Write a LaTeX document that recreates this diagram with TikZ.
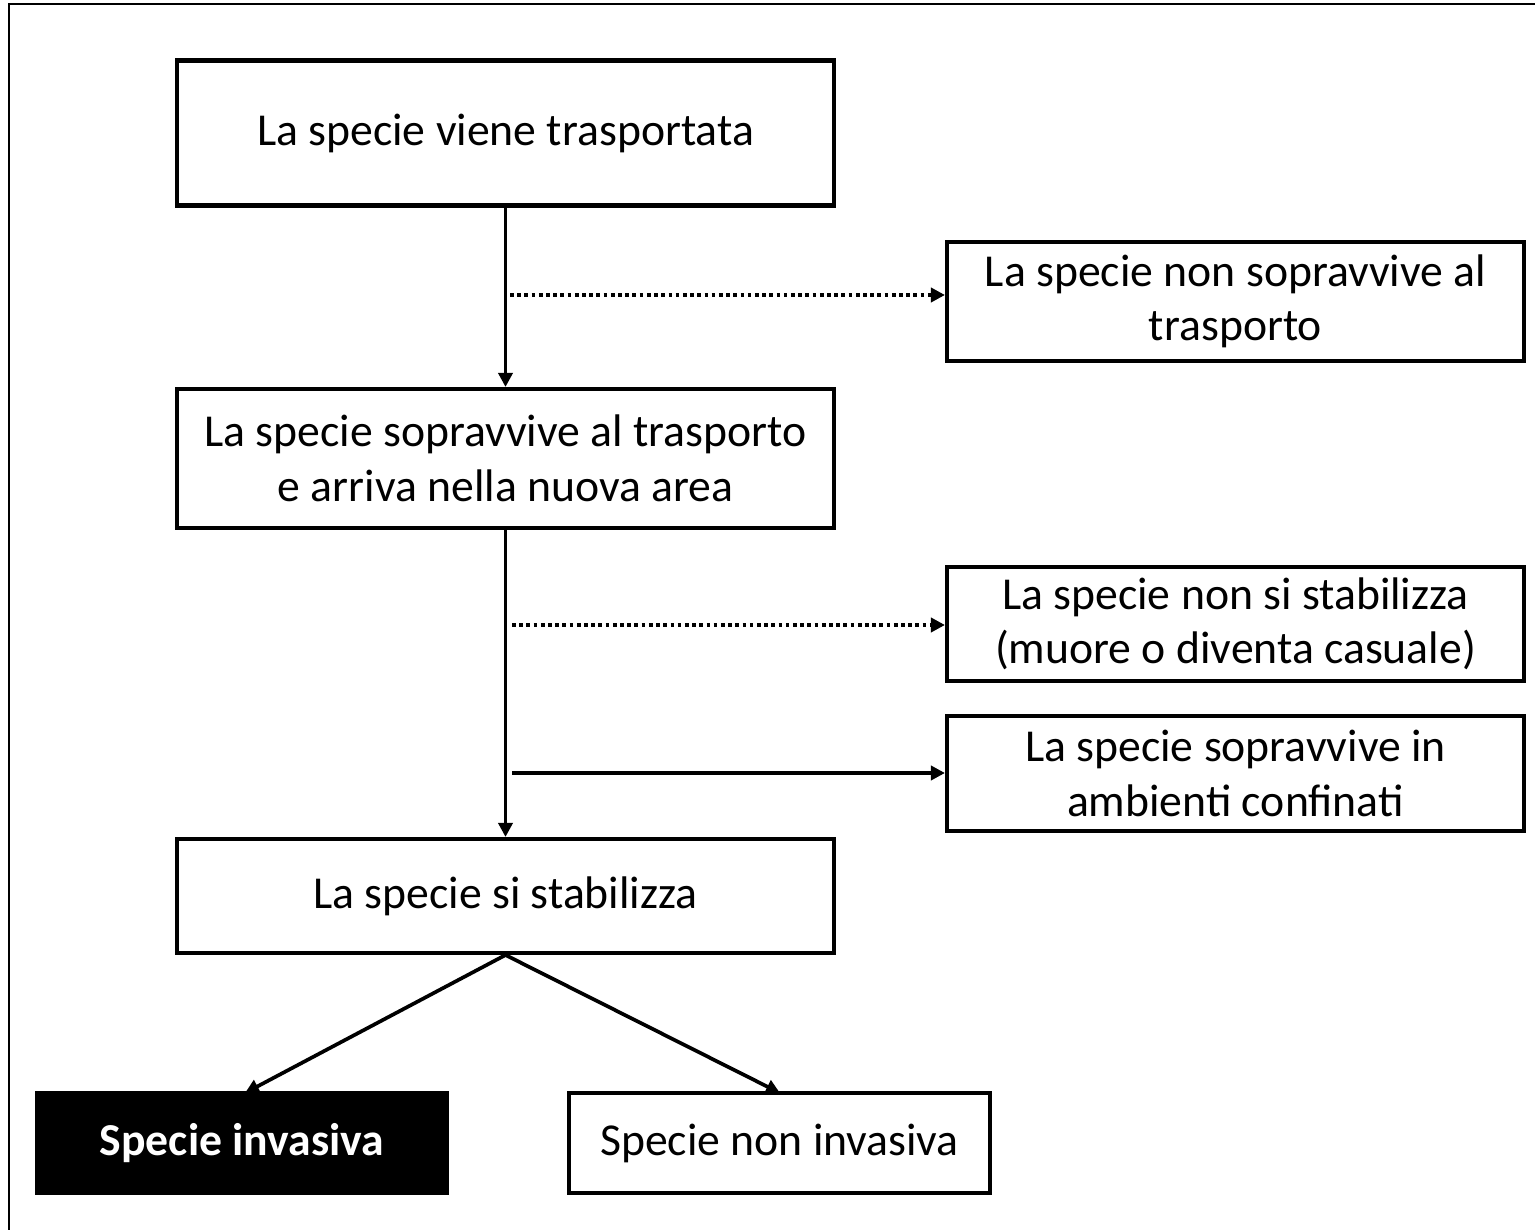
\documentclass[tikz,border=0pt]{standalone}
\usepackage{fontspec}
\setmainfont{Carlito}
\usepackage{tikz}
\usetikzlibrary{arrows.meta}

\tikzset{
	stagebox/.style={shape=rectangle,draw=black,line width=2.3pt,align=center,inner sep=0pt},
	flow/.style={line width=2.1pt,-{Triangle[length=8pt,width=8pt]}}
}

\begin{document}
\begin{tikzpicture}[font=\fontsize{26}{31}\selectfont]
	\useasboundingbox (0,0) rectangle (30.7,-24.6);
	% frame
	\draw[line width=1.4pt] (0.18,-25) -- (0.18,-0.08) -- (31,-0.08);

	\node[stagebox,minimum width=13.14cm,minimum height=2.9cm] (a) at (10.11,-2.66) {La specie viene trasportata};
	\node[stagebox,minimum width=11.54cm,minimum height=2.38cm] (b) at (24.71,-6.03) {La specie non sopravvive al\\trasporto};
	\node[stagebox,minimum width=13.14cm,minimum height=2.78cm] (c) at (10.11,-9.17) {La specie sopravvive al trasporto\\e arriva nella nuova area};
	\node[stagebox,minimum width=11.54cm,minimum height=2.28cm] (d) at (24.71,-12.48) {La specie non si stabilizza\\(muore o diventa casuale)};
	\node[stagebox,minimum width=11.54cm,minimum height=2.3cm] (e) at (24.71,-15.47) {La specie sopravvive in\\ambienti confinati};
	\node[stagebox,minimum width=13.14cm,minimum height=2.28cm] (f) at (10.11,-17.92) {La specie si stabilizza};
	\node[stagebox,fill=black,text=white,font=\fontsize{26}{31}\selectfont\bfseries,minimum width=8.2cm,minimum height=2cm] (g) at (4.84,-22.86) {Specie invasiva};
	\node[stagebox,minimum width=8.42cm,minimum height=2cm] (h) at (15.59,-22.86) {Specie non invasiva};

	\coordinate (s1) at (10.2,-5.9);
	\coordinate (s2) at (10.24,-12.5);
	\coordinate (s3) at (10.24,-15.46);
	\coordinate (g1) at (4.9,-21.86);
	\coordinate (h1) at (15.6,-21.86);

	\path[flow] (a) edge (c);
	\path[flow] (c) edge (f);
	\path[flow,dotted] (s1) edge (s1 -| b.west);
	\path[flow,dotted] (s2) edge (s2 -| d.west);
	\path[flow] (s3) edge (s3 -| e.west);
	\path[flow] (f.south) edge (g1);
	\path[flow] (f.south) edge (h1);
\end{tikzpicture}
\end{document}
